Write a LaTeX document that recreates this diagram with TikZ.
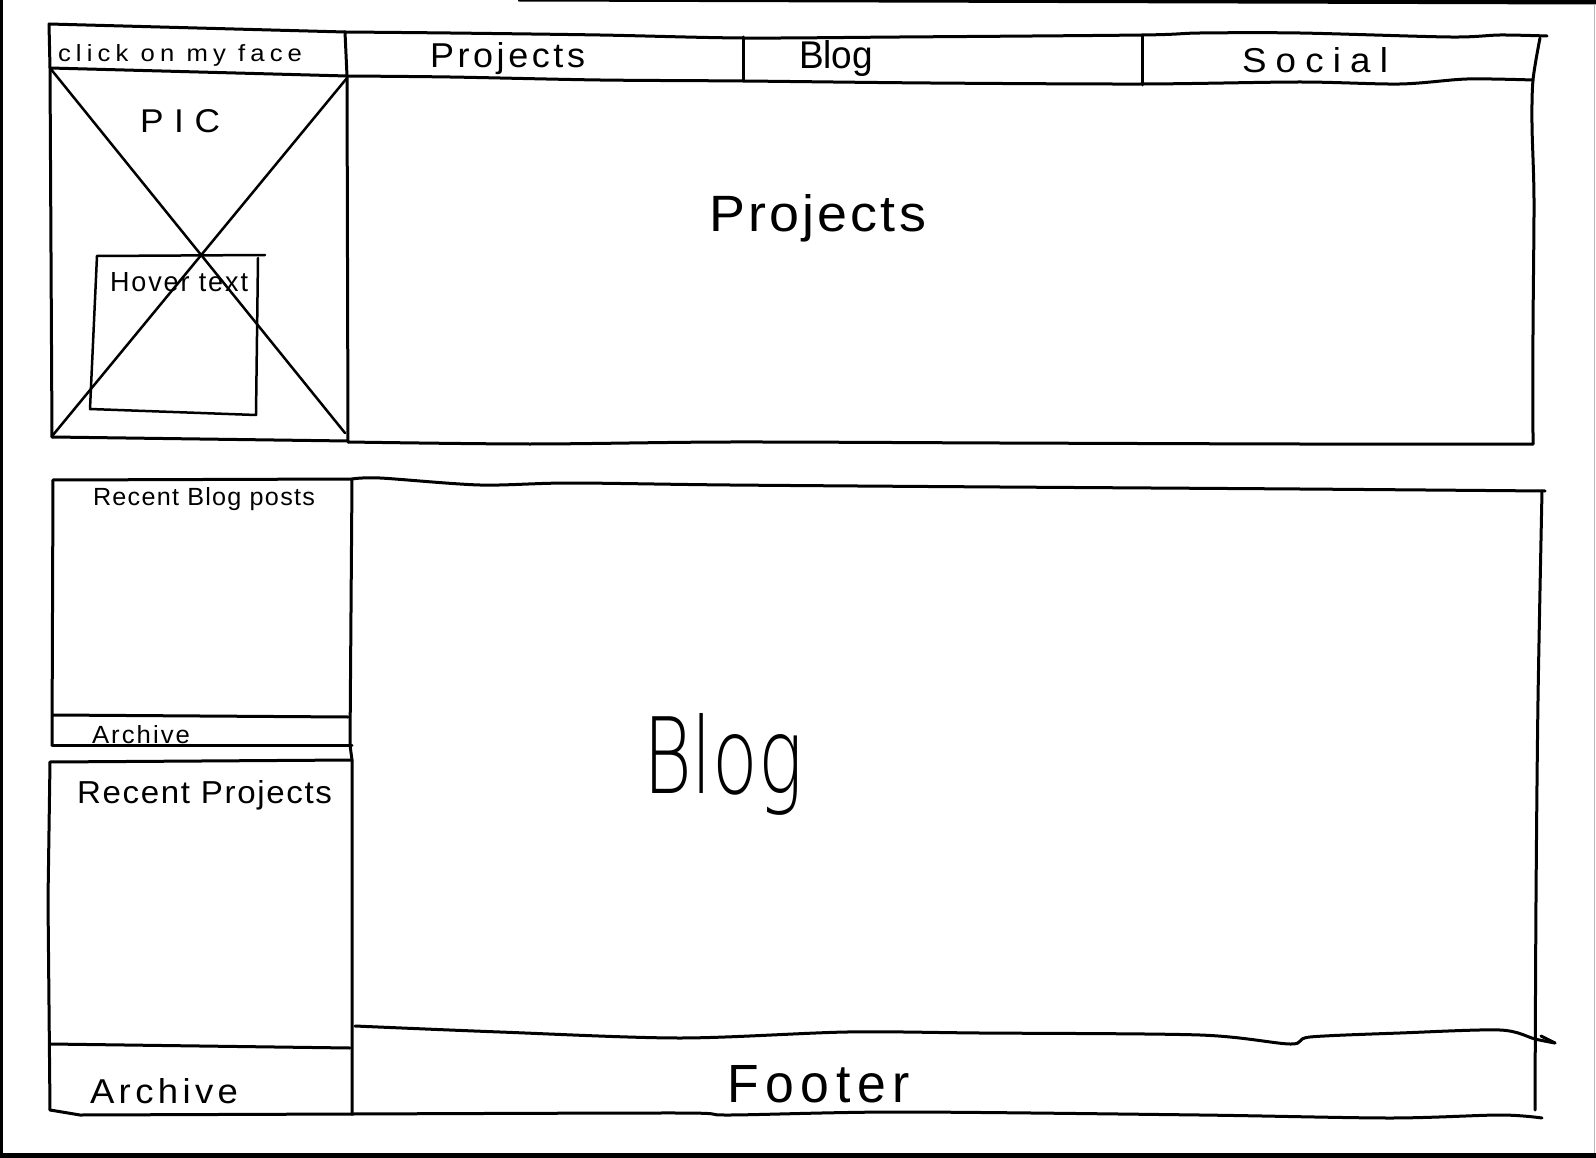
\documentclass[tikz,border=0pt]{standalone}
\usepackage{fontspec}
\setmainfont{Liberation Sans}
\newfontfamily\penlight{DejaVu Sans ExtraLight}
\usepackage{graphicx}
% hand-lettered word: width, height above baseline, letter spacing, text
\newcommand{\hw}[4]{\resizebox{#1pt}{#2pt}{\addfontfeature{LetterSpace=#3}#4}}
\tikzset{
  ink/.style={line width=3pt, line cap=round, line join=round, black},
  thinink/.style={line width=2.5pt, line cap=round, line join=round, black},
  word/.style={anchor=base west, inner sep=0pt, outer sep=0pt},
  wobble/.style={smooth, tension=0.5}
}
\begin{document}
\begin{tikzpicture}[x=1pt, y=-1pt]
\useasboundingbox (0,0) rectangle (1596,1158);
\fill[white] (0,0) rectangle (1596,1158);

% edges of the sheet
\fill[black] (0,0) rectangle (3,1158);
\fill[black] (518,0) -- (1596,0) -- (1596,4.5) -- (518,1.5) -- cycle;
\fill[black] (0,1153) rectangle (1596,1158);
\draw[gray!55, line width=1pt] (1594.5,4) -- (1594.5,1153);

% ---------- top band ----------
% profile box
\draw[ink] (49,24) -- (345,32);
\draw[ink] (49,24) -- (50,68) -- (52,437);
\draw[ink] (50,68) -- (347,76);
\draw[ink] (52,437) -- (348,441);
\draw[ink] (345,32) -- (347,76) -- (348,442);
% picture placeholder cross
\draw[thinink] (50,68) -- (345,433);
\draw[thinink] (347,78) -- (53,435);
% hover text box
\draw[thinink] (97,256) -- (265,255);
\draw[thinink] (97,256) -- (90,409) -- (256,415) -- (258,258);

% navigation bar
\draw[ink] plot[wobble] coordinates {(345,32) (450,33) (600,35) (743,38) (900,37) (1142,35) (1200,33) (1300,33) (1450,37) (1500,35) (1547,36)};
\draw[ink] plot[wobble] coordinates {(347,76) (450,77) (600,80) (743,81) (930,83) (1142,84) (1300,82) (1400,84) (1467,79) (1533,80)};
\draw[ink] (743,37) -- (743,81);
\draw[ink] (1142,36) -- (1142,85);

% projects panel
\draw[ink] plot[wobble] coordinates {(1540,38) (1533,80) (1532,125) (1534,200) (1533,330) (1533,444)};
\draw[ink] plot[wobble] coordinates {(348,442) (530,444) (730,442) (1000,443) (1300,444) (1533,444)};

% ---------- lower band ----------
% recent blog posts box
\draw[ink] (53,480) -- (352,479);
\draw[ink] (53,480) -- (52,745);
\draw[ink] (352,479) -- (350,745) -- (352,760) -- (352,1114);
\draw[ink] (53,715) -- (348,717);
\draw[ink] (52,745) -- (352,745);
% recent projects box
\draw[ink] (50,762) -- (352,760);
\draw[ink] (50,762) -- (48,900) -- (50,1110);
\draw[ink] (50,1044) -- (350,1048);
\draw[ink] (50,1110) -- (80,1115) -- (352,1114);

% blog panel
\draw[ink] plot[wobble] coordinates {(352,479) (380,478) (480,485) (570,483) (730,485) (1000,487) (1300,489) (1545,491)};
\draw[ink] plot[wobble] coordinates {(1542,491) (1538,700) (1536,900) (1535,1110)};
% footer divider with its flick
\draw[ink] plot[wobble] coordinates {(355,1026) (500,1032) (680,1038) (847,1032) (980,1033) (1200,1035) (1290,1044) (1310,1037) (1400,1033) (1500,1030) (1535,1039) (1555,1043)};
\draw[ink] (1541,1036) -- (1555,1043);
\draw[ink] plot[wobble] coordinates {(352,1114) (680,1113) (730,1115) (900,1112) (1200,1115) (1390,1118) (1500,1115) (1542,1118)};

% ---------- labels ----------
\node[word] (clickface) at (58,62) {\hw{244}{17}{20}{click on my face}};
\node[word] (pic) at (140,133) {\hw{80}{23}{30}{PIC}};
\node[word] (hover) at (110,292) {\hw{138}{19}{7}{Hover text}};
\node[word] (navprojects) at (430,68) {\hw{155}{25}{10}{Projects}};
\node[word] (navblog) at (799,69) {\hw{74}{28}{0}{Blog}};
\node[word] (navsocial) at (1242,73) {\hw{146}{25}{25}{Social}};
\node[word] (projects) at (709,232) {\hw{217}{37}{6}{Projects}};
\node[word] (recentposts) at (93,505) {\hw{222}{18}{5}{Recent Blog posts}};
\node[word] (archiveposts) at (92,743) {\hw{98}{18}{8}{Archive}};
\node[word] (blog) at (643,793) {\hw{160}{80}{0}{\penlight Blog}};
\node[word] (recentprojects) at (77,803) {\hw{255}{23}{5}{Recent Projects}};
\node[word] (archiveprojects) at (90,1103) {\hw{148}{25}{12}{Archive}};
\node[word] (footer) at (727,1102) {\hw{183}{37}{13}{Footer}};
\end{tikzpicture}
\end{document}
